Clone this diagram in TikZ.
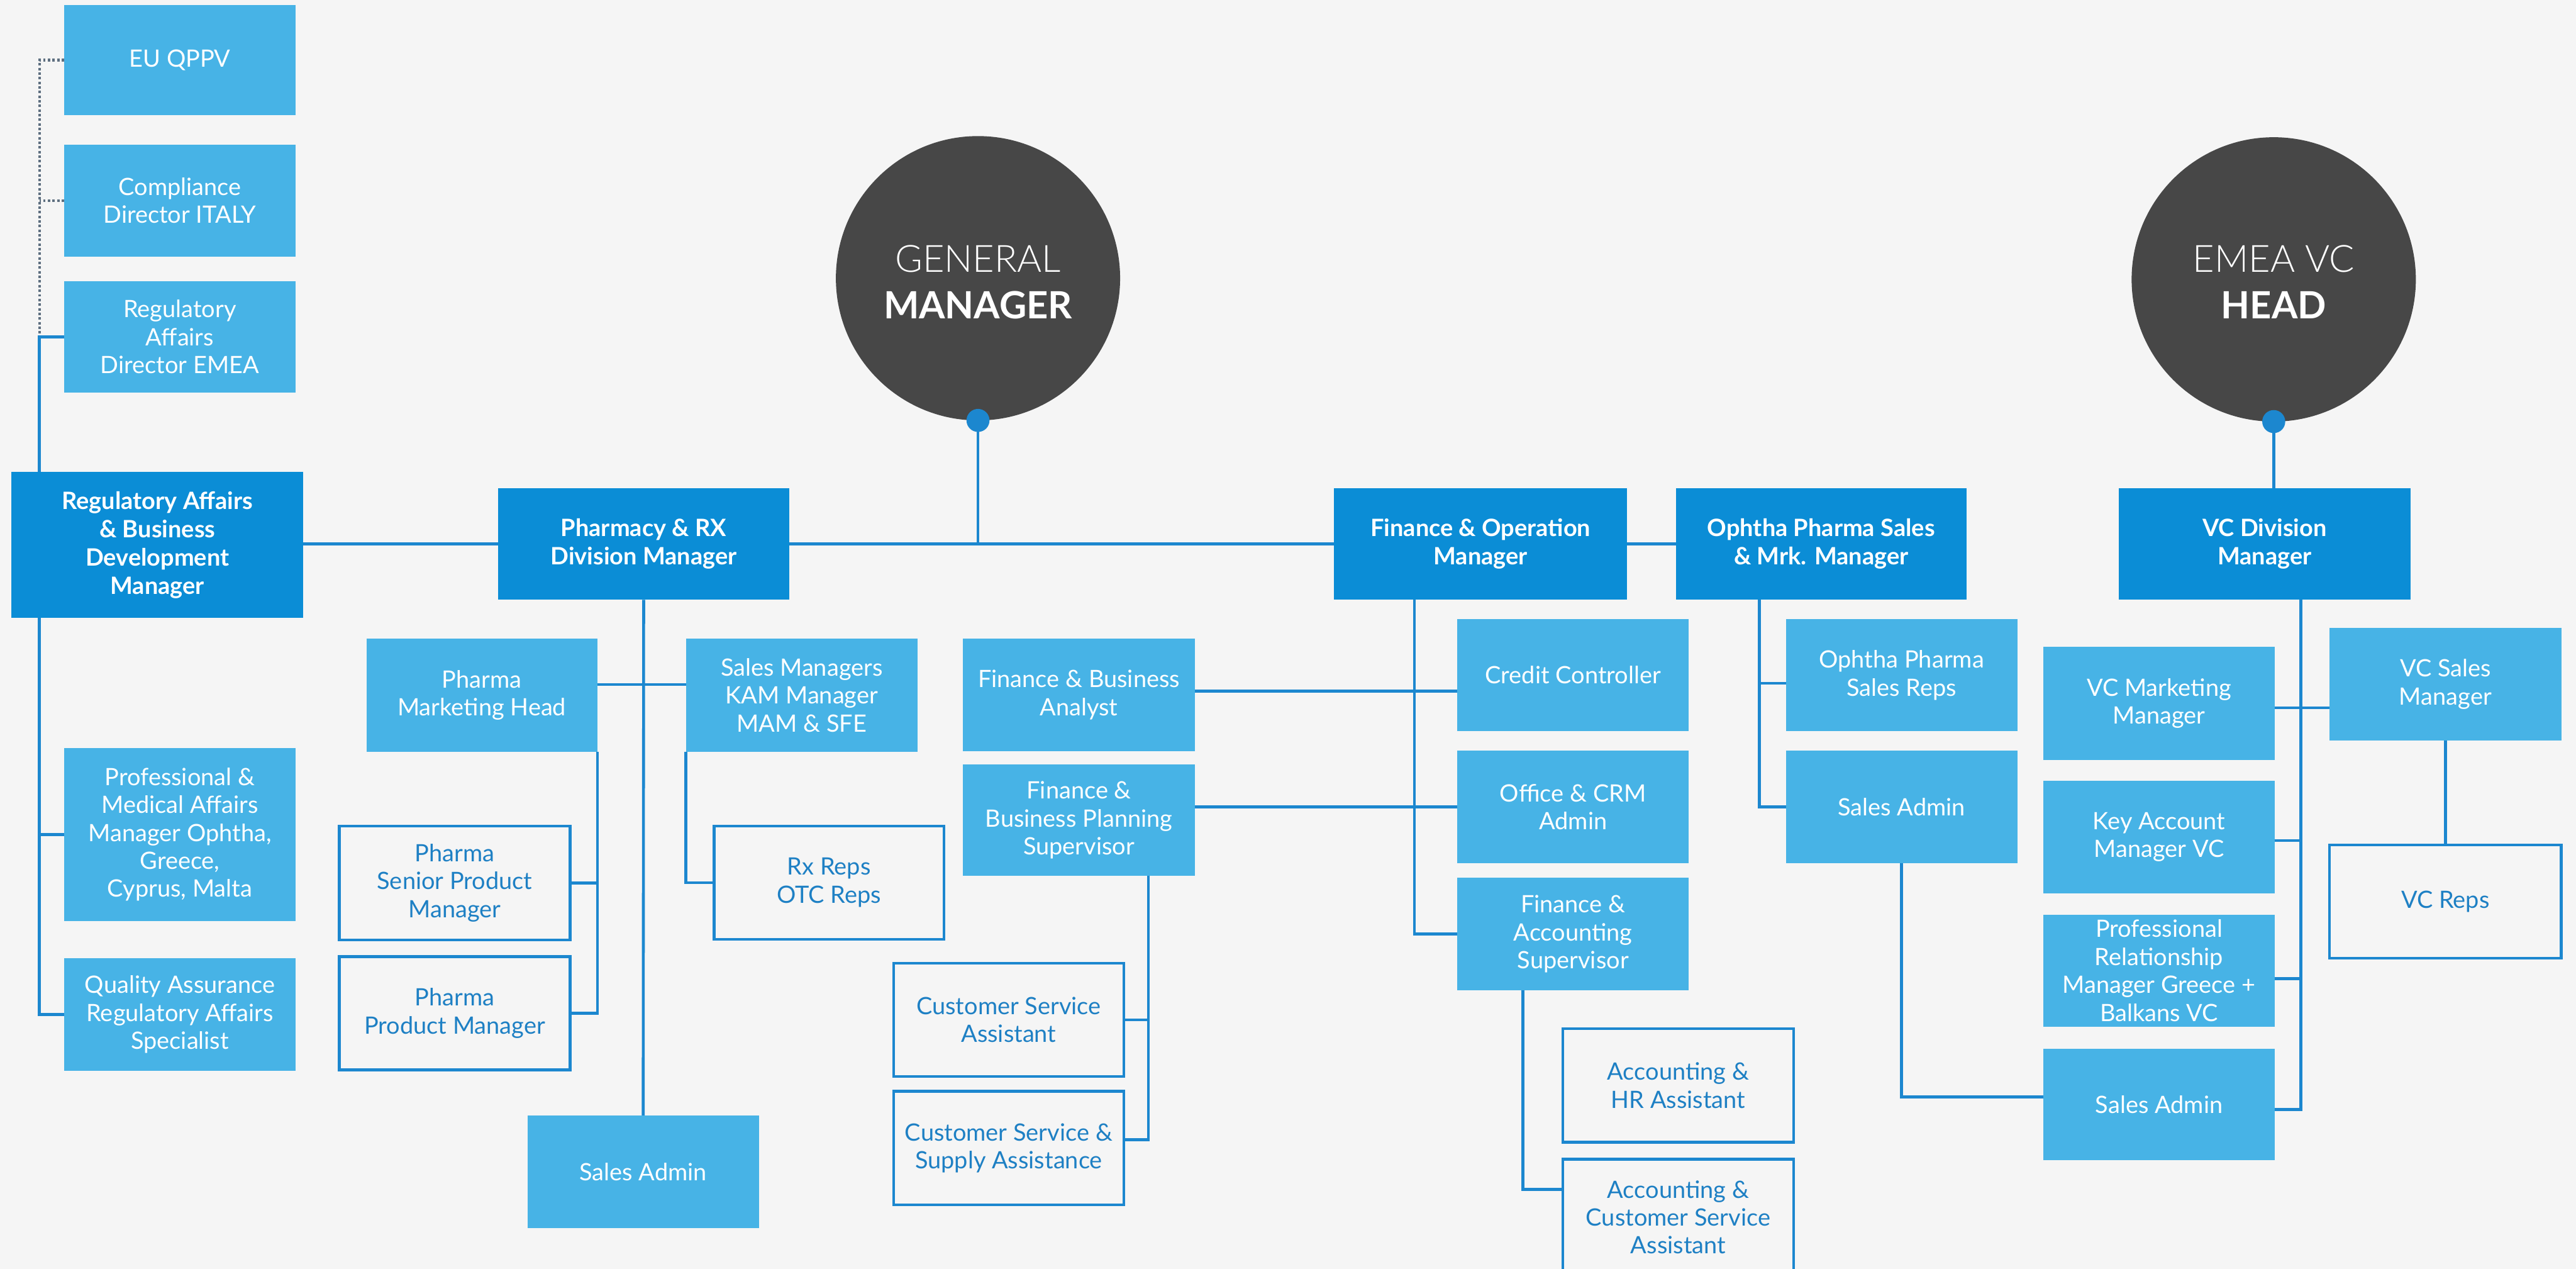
\documentclass[tikz,border=0pt]{standalone}
\usepackage{fontspec}
\setmainfont{Lato}
\IfFontExistsTF{Lato-Light.ttf}{\newfontfamily\bosslight{Lato-Light.ttf}}{\newfontfamily\bosslight{Lato}}
\usetikzlibrary{calc}
\definecolor{bg}{HTML}{F5F5F5}
\definecolor{dblue}{HTML}{0B8DD6}
\definecolor{lblue}{HTML}{47B3E6}
\definecolor{lineblue}{HTML}{1C87CF}
\definecolor{obtext}{HTML}{1E80C4}
\definecolor{circ}{HTML}{474747}
\definecolor{dotgray}{HTML}{5E6F80}
\newcommand{\orgbox}[7]{%
  \pgfmathsetmacro\obcx{(#3+#5)/2}%
  \pgfmathsetmacro\obcy{(#4+#6)/2}%
  \pgfmathsetmacro\obw{(#5-#3)*0.03}%
  \pgfmathsetmacro\obh{(#6-#4)*0.03}%
  \node[#2, minimum width=\obw cm, minimum height=\obh cm] (#1) at (\obcx,\obcy) {#7};}
\tikzset{
  boxbase/.style={rectangle, inner sep=0pt, outer sep=0pt, align=center, font=\fontsize{12.4}{14.5}\selectfont},
  topbox/.style={boxbase, fill=dblue, text=white, font=\bfseries\fontsize{12.4}{14.7}\selectfont},
  subbox/.style={boxbase, fill=lblue, text=white},
  outbox/.style={boxbase, draw=lineblue, line width=1.4pt, fill=bg, text=obtext},
  conn/.style={draw=lineblue, line width=1.5pt},
  dotconn/.style={draw=dotgray, line width=1.4pt, dash pattern=on 1.3pt off 1.1pt},
  boss/.style={circle, fill=circ, inner sep=0pt, outer sep=0pt, minimum size=5.19cm},
  bossdot/.style={circle, fill=lineblue, inner sep=0pt, minimum size=0.42cm},
  bosstxt/.style={text=white, anchor=base, inner sep=0pt, font=\bosslight\fontsize{19.5}{22}\selectfont},
  bosstxtb/.style={text=white, anchor=base, inner sep=0pt, font=\bfseries\fontsize{19.5}{22}\selectfont},
}
\begin{document}
\begin{tikzpicture}[x=0.03cm, y=-0.03cm]
\useasboundingbox (0,0) rectangle (1568,772);
\fill[bg] (0,0) rectangle (1568,772);
\clip (0,0) rectangle (1568,772);

% heads
\node[boss] (gm) at (595.3,169.3) {};
\node[bosstxt] (gmt1) at (595.3,165.5) {GENERAL};
\node[bosstxtb] (gmt2) at (595.3,194) {MANAGER};
\node[bossdot] (gmdot) at (gm.south) {};
\node[boss] (em) at (1384,170) {};
\node[bosstxt] (emt1) at (1384,165.5) {EMEA VC};
\node[bosstxtb] (emt2) at (1384,194) {HEAD};
\node[bossdot] (emdot) at (em.south) {};

% left column
\orgbox{eu}{subbox}{39}{3}{180}{70}{EU QPPV}
\orgbox{comp}{subbox}{39}{88}{180}{156}{Compliance\\Director ITALY}
\orgbox{rade}{subbox}{39}{171}{180}{239}{Regulatory\\Affairs\\Director EMEA}
\orgbox{reg}{topbox}{7}{287}{184.6}{376}{Regulatory Affairs\\\& Business\\Development\\Manager}
\orgbox{prof}{subbox}{39}{455}{180}{560.5}{Professional \&\\Medical Affairs\\Manager Ophtha,\\Greece,\\Cyprus, Malta}
\orgbox{qa}{subbox}{39}{583}{180}{651.5}{Quality Assurance\\Regulatory Affairs\\Specialist}

% pharmacy
\orgbox{pharm}{topbox}{303}{297}{480.6}{365}{Pharmacy \& RX\\Division Manager}
\orgbox{pmh}{subbox}{223}{388.5}{363.6}{457.4}{Pharma\\Marketing Head}
\orgbox{smk}{subbox}{417.5}{388.5}{558.5}{457.4}{Sales Managers\\KAM Manager\\MAM \& SFE}
\orgbox{pspm}{outbox}{206.5}{502.5}{347}{572}{Pharma\\Senior Product\\Manager}
\orgbox{ppm}{outbox}{206.5}{582}{347}{651}{Pharma\\Product Manager}
\orgbox{rx}{outbox}{434.7}{502.5}{574.5}{571.5}{Rx Reps\\OTC Reps}
\orgbox{psa}{subbox}{321}{678.7}{462}{747.3}{Sales Admin}

% finance
\orgbox{fin}{topbox}{812}{297}{990.4}{365}{Finance \& Operation\\Manager}
\orgbox{fba}{subbox}{586}{388.5}{727.5}{457}{Finance \& Business\\Analyst}
\orgbox{fbps}{subbox}{586}{465}{727.5}{533}{Finance \&\\Business Planning\\Supervisor}
\orgbox{csa}{outbox}{544}{586}{684}{655}{Customer Service\\Assistant}
\orgbox{cssa}{outbox}{544}{664}{684}{733}{Customer Service \&\\Supply Assistance}
\orgbox{cc}{subbox}{887}{376.8}{1028}{444.8}{Credit Controller}
\orgbox{office}{subbox}{887}{456.8}{1028}{525.3}{Office \& CRM\\Admin}
\orgbox{fas}{subbox}{887}{534}{1028}{602.6}{Finance \&\\Accounting\\Supervisor}
\orgbox{hr}{outbox}{951.3}{626}{1091.7}{695}{Accounting \&\\HR Assistant}
\orgbox{acsa}{outbox}{951.3}{705.3}{1091.7}{776}{Accounting \&\\Customer Service\\Assistant}

% ophtha
\orgbox{oph}{topbox}{1020}{297}{1197}{365}{Ophtha Pharma Sales\\\& Mrk. Manager}
\orgbox{opsr}{subbox}{1087}{376.8}{1228}{444.8}{Ophtha Pharma\\Sales Reps}
\orgbox{osa}{subbox}{1087}{456.8}{1228}{525.3}{Sales Admin}

% VC
\orgbox{vc}{topbox}{1289.7}{297}{1467.2}{365}{VC Division\\Manager}
\orgbox{vcm}{subbox}{1243.8}{393.7}{1384.6}{462.3}{VC Marketing\\Manager}
\orgbox{kam}{subbox}{1243.8}{475}{1384.6}{543.6}{Key Account\\Manager VC}
\orgbox{prm}{subbox}{1243.8}{556.5}{1384.6}{624.6}{Professional\\Relationship\\Manager Greece +\\Balkans VC}
\orgbox{vsa}{subbox}{1243.8}{638}{1384.6}{706}{Sales Admin}
\orgbox{vcsm}{subbox}{1418}{382}{1559}{450.6}{VC Sales\\Manager}
\orgbox{vcr}{outbox}{1418}{514}{1559}{583}{VC Reps}

% bus coordinates
\coordinate (lbus) at (24,0);
\coordinate (fbus) at (861,0);
\coordinate (fbpsbus) at (699,0);
\coordinate (fasbus) at (927,0);
\coordinate (obus) at (1071,0);
\coordinate (vbus) at (1400.5,0);
\coordinate (mhj) at ($(pmh.north east)+(0,28)$);
\coordinate (ccj) at ($(fba.north east)+(0,32)$);
\coordinate (cssaj) at ($(cssa.north east)+(0,29.5)$);
\coordinate (acsaj) at ($(acsa.north west)+(0,18.5)$);
\coordinate (opsrj) at ($(opsr.north west)+(0,39)$);
\coordinate (vsaj) at ($(vsa.north west)+(0,29.5)$);
\coordinate (vsaj2) at ($(vsa.north east)+(0,37)$);
\coordinate (vcmj) at ($(vcm.north east)+(0,37)$);
\coordinate (kamj) at ($(kam.north east)+(0,36.5)$);
\coordinate (prmj) at ($(prm.north east)+(0,39)$);

% connectors: top
\draw[conn] (gmdot.center) -- (gmdot.center |- pharm.east);
\draw[conn] (reg.east |- pharm.west) -- (pharm.west);
\draw[conn] (pharm.east) -- (fin.west);
\draw[conn] (fin.east) -- (oph.west);
\draw[conn] (emdot.center) -- (emdot.center |- vc.north);

% left
\draw[dotconn] (eu.west) -- (eu.west -| lbus) -- (rade.west -| lbus);
\draw[dotconn] (comp.west) -- (comp.west -| lbus);
\draw[conn] (rade.west) -- (rade.west -| lbus) -- (reg.north -| lbus);
\draw[conn] (reg.south -| lbus) -- (qa.west -| lbus) -- (qa.west);
\draw[conn] (prof.west) -- (prof.west -| lbus);

% pharmacy
\draw[conn] (pharm.south) -- (psa.north);
\draw[conn] (mhj) -- (mhj -| smk.west);
\draw[conn] (pmh.south east) -- (ppm.east -| pmh.south east) -- (ppm.east);
\draw[conn] (pspm.east) -- (pspm.east -| pmh.south east);
\draw[conn] (smk.south west) -- (rx.west -| smk.south west) -- (rx.west);

% finance
\draw[conn] (fin.south -| fbus) -- (fas.west -| fbus) -- (fas.west);
\draw[conn] (ccj) -- (ccj -| cc.west);
\draw[conn] (office.west) -- (office.west -| fbps.east);
\draw[conn] (fbps.south -| fbpsbus) -- (cssaj -| fbpsbus) -- (cssaj);
\draw[conn] (csa.east) -- (csa.east -| fbpsbus);
\draw[conn] (fas.south -| fasbus) -- (acsaj -| fasbus) -- (acsaj);

% ophtha
\draw[conn] (oph.south -| obus) -- (osa.west -| obus) -- (osa.west);
\draw[conn] (opsrj) -- (opsrj -| obus);
\draw[conn] (osa.south) -- (osa.south |- vsaj) -- (vsaj);

% VC
\draw[conn] (vc.south -| vbus) -- (vsaj2 -| vbus) -- (vsaj2);
\draw[conn] (vcmj) -- (vcmj -| vcsm.west);
\draw[conn] (kamj) -- (kamj -| vbus);
\draw[conn] (prmj) -- (prmj -| vbus);
\draw[conn] (vcsm.south) -- (vcr.north);
\end{tikzpicture}
\end{document}
